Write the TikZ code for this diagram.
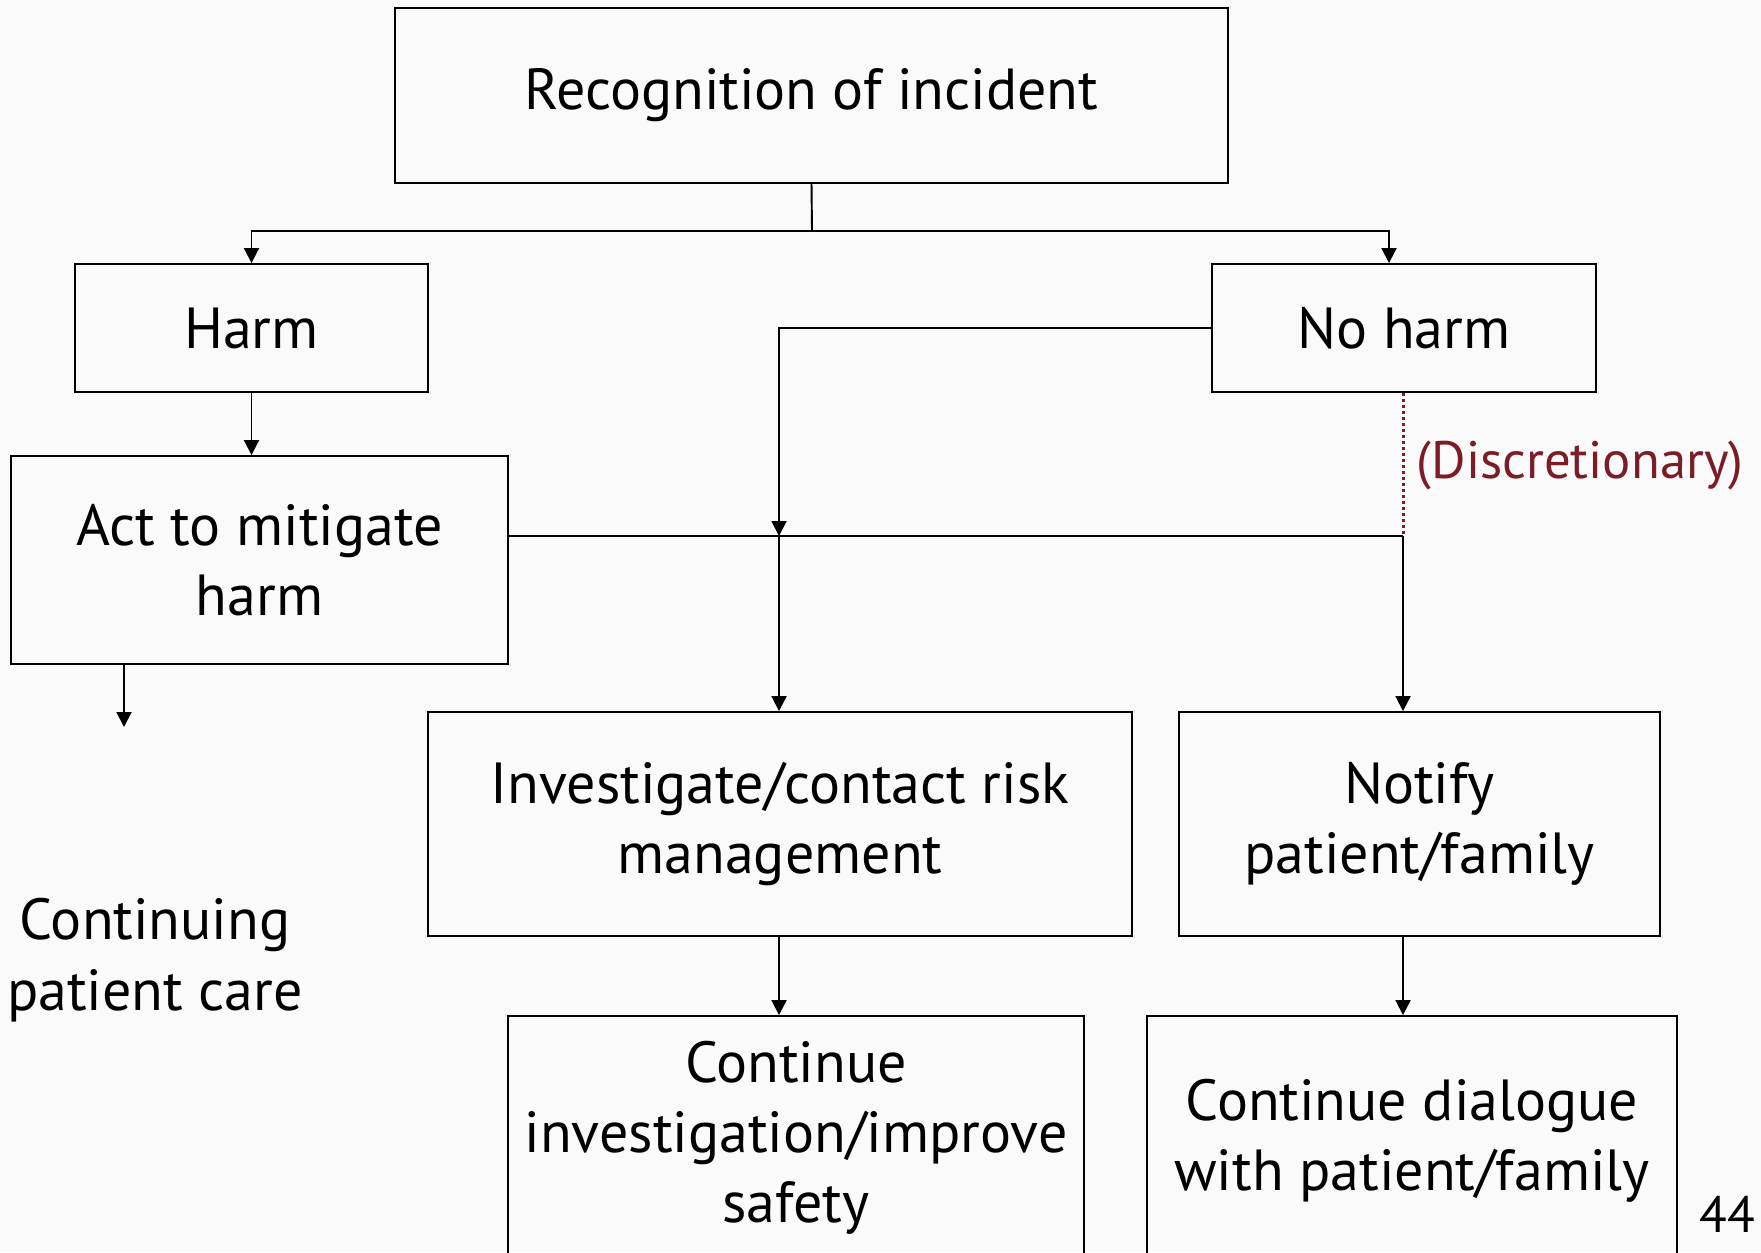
\documentclass[tikz,border=0pt]{standalone}
\usepackage{fontspec}
\setmainfont{PT Sans}
\usetikzlibrary{arrows.meta}
\definecolor{bgcol}{RGB}{250,250,250}
\definecolor{discred}{RGB}{123,28,39}
\tikzset{
  box/.style={draw, line width=1.1pt, align=center, inner sep=0pt, font=\fontsize{33}{40}\selectfont},
  conn/.style={line width=1.1pt},
  arr/.style={conn, -{Triangle[length=0.3cm,width=0.3cm]}}
}
\begin{document}
\begin{tikzpicture}[x=0.02cm,y=-0.02cm]
\fill[bgcol] (0,0) rectangle (1761,1252);
\useasboundingbox (0,0) rectangle (1761,1252);

\node[box, minimum width=16.66cm, minimum height=3.5cm] (rec) at (811.5,95.5) {Recognition of incident};
\node[box, minimum width=7.06cm, minimum height=2.56cm] (harm) at (251.5,328) {Harm};
\node[box, minimum width=7.68cm, minimum height=2.56cm] (noharm) at (1404,328) {No harm};
\node[box, minimum width=9.94cm, minimum height=4.16cm] (act) at (259.5,560) {Act to mitigate\\harm};
\node[box, minimum width=14.08cm, minimum height=4.48cm] (inv) at (780,824) {Investigate/contact risk\\management};
\node[box, minimum width=9.62cm, minimum height=4.48cm] (notify) at (1419.5,824) {Notify\\patient/family};
\node[box, minimum width=11.52cm, minimum height=4.88cm] (cinv) at (796,1138) {Continue\\investigation/improve\\safety};
\node[box, minimum width=10.6cm, minimum height=5cm] (cdial) at (1412,1141) {Continue dialogue\\with patient/family};
\node[box, draw=none] (care) at (155,960) {Continuing\\patient care};
\node[box, draw=none, anchor=east, font=\fontsize{29}{34}\selectfont] (page) at (1756,1214) {44};

\coordinate (split) at (812,231);
\coordinate (join) at (779,536);
\coordinate (disc) at (1403,536);
\coordinate (careend) at (124,727);

\draw[conn] (rec.south) -- (split);
\draw[arr] (split) -| (harm.north);
\draw[arr] (split) -| ([xshift=-0.3cm]noharm.north);
\draw[arr] (harm.south) -- (harm.south |- act.north);
\draw[arr] (noharm.west) -| (join);
\draw[conn] (act.east |- join) -- (disc);
\draw[arr] (join) -- (join |- inv.north);
\draw[arr] (disc) -- (disc |- notify.north);
\draw[discred, line width=0.06cm, dash pattern=on 0.06cm off 0.06cm] (disc |- noharm.south) -- (disc);
\node[box, draw=none, anchor=west, text=discred, font=\fontsize{30}{36}\selectfont] (disclabel) at (1416,466) {(Discretionary)};
\draw[arr] (act.south -| careend) -- (careend);
\draw[arr] (inv.south -| join) -- (join |- cinv.north);
\draw[arr] (notify.south -| disc) -- (disc |- cdial.north);
\end{tikzpicture}
\end{document}
